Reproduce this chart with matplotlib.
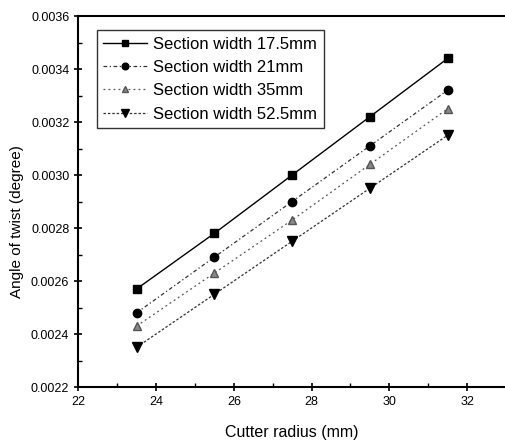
import matplotlib
matplotlib.use("Agg")
import matplotlib.pyplot as plt
from matplotlib.ticker import MultipleLocator, FormatStrFormatter

plt.rcParams['font.family'] = ['Liberation Sans', 'DejaVu Sans']

radius = [23.5, 25.5, 27.5, 29.5, 31.5]
w17_5 = [0.00257, 0.00278, 0.00300, 0.00322, 0.00344]
w21 = [0.00248, 0.00269, 0.00290, 0.00311, 0.00332]
w35 = [0.00243, 0.00263, 0.00283, 0.00304, 0.00325]
w52_5 = [0.00235, 0.00255, 0.00275, 0.00295, 0.00315]
labels = ["Section width 17.5mm", "Section width 21mm",
          "Section width 35mm", "Section width 52.5mm"]

fig = plt.figure(figsize=(5.06, 4.47), dpi=100)
ax = fig.add_axes([0.1547, 0.1342, 0.8453, 0.8300])

ax.plot(radius, w17_5, color='black', lw=1.0, ls='-', marker='s', ms=6,
        mfc='black', mec='black', label=labels[0])
ax.plot(radius, w21, color='#333333', lw=0.9, ls=(0, (3, 2, 1, 2)), marker='o', ms=6,
        mfc='black', mec='black', label=labels[1])
ax.plot(radius, w35, color='#555555', lw=0.9, ls=(0, (1.5, 2.5)), marker='^', ms=6,
        mfc='#888888', mec='#555555', label=labels[2])
ax.plot(radius, w52_5, color='#333333', lw=0.9, ls=(0, (2, 1.5)), marker='v', ms=7,
        mfc='black', mec='black', label=labels[3])

ax.set_xlim(22, 33)
ax.set_ylim(0.0022, 0.0036)
ax.xaxis.set_major_locator(MultipleLocator(2))
ax.xaxis.set_minor_locator(MultipleLocator(1))
ax.yaxis.set_major_locator(MultipleLocator(0.0002))
ax.yaxis.set_minor_locator(MultipleLocator(0.0001))
ax.yaxis.set_major_formatter(FormatStrFormatter('%.4f'))

ax.tick_params(which='major', direction='inout', length=6, width=1.2, labelsize=9)
ax.tick_params(which='minor', direction='in', length=3, width=1.0)
ax.tick_params(top=False, right=False)
for s in ['left', 'bottom', 'top']:
    ax.spines[s].set_linewidth(1.5)
ax.spines['right'].set_visible(False)

ax.set_xlabel("Cutter radius (mm)", fontsize=11.5)
ax.set_ylabel("Angle of twist (degree)", fontsize=11)
ax.xaxis.set_label_coords(0.5, -0.102)
ax.yaxis.set_label_coords(-0.128, 0.445)

leg = ax.legend(loc='upper left', bbox_to_anchor=(0.0430, 0.9623), borderaxespad=0,
                frameon=True, fancybox=False, edgecolor='black', fontsize=12,
                handlelength=2.6, borderpad=0.4, labelspacing=0.5,
                handletextpad=0.4, markerscale=0.8)
leg.get_frame().set_linewidth(1.0)

fig.savefig("out.png", dpi=100)
